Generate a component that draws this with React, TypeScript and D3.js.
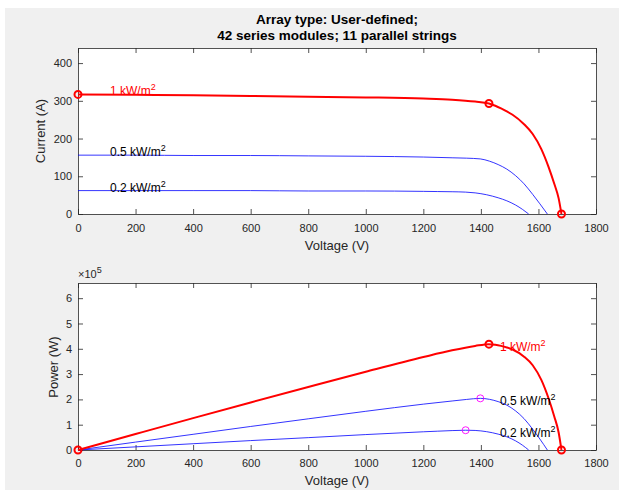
import React, { useEffect, useRef } from "react";
import * as d3 from "d3";

// I-V curves (voltage in V, current in A)
const irradianceLabels = ["1 kW/m", "0.5 kW/m", "0.2 kW/m"];

const voltage1 = [0, 200, 400, 600, 800, 1000, 1200, 1300, 1380, 1428, 1450, 1470, 1490, 1510, 1550, 1580, 1610, 1635, 1655, 1670, 1680];
const current1 = [317, 316, 315, 313, 311, 309, 306, 303, 298, 293, 287, 280, 272, 263, 238, 212, 172, 125, 80, 42, 0];

const voltage05 = [0, 200, 400, 600, 800, 1000, 1200, 1300, 1350, 1398, 1430, 1460, 1490, 1520, 1550, 1580, 1605, 1631];
const current05 = [156, 156, 155, 155, 154, 153, 151, 149, 148, 146, 140, 131, 119, 102, 80, 52, 27, 0];

const voltage02 = [0, 200, 400, 600, 800, 1000, 1200, 1250, 1300, 1347, 1380, 1420, 1460, 1490, 1520, 1545, 1566];
const current02 = [62, 62, 62, 62, 61, 61, 60, 59.5, 59, 58, 56, 51, 43, 35, 24, 12, 0];

// maximum power points
const mppVoltage = [1428, 1398, 1347];
const mppCurrent = [293, 146, 58];

const xTicks = [0, 200, 400, 600, 800, 1000, 1200, 1400, 1600, 1800];
const currentTicks = [0, 100, 200, 300, 400];
const powerTicks = [0, 1, 2, 3, 4, 5, 6];

const titleLines = ["Array type: User-defined;", "42 series modules; 11 parallel strings"];

const W = 619;
const H = 490;
const AX = "#262626";
const FONT = "'Liberation Sans', Arial, Helvetica, sans-serif";

export default function App() {
  const svgRef = useRef<SVGSVGElement>(null);

  useEffect(() => {
    const svg = d3.select(svgRef.current);
    svg.selectAll("*").remove();

    svg.append("rect").attr("x", 5).attr("y", 8).attr("width", W - 5).attr("height", H - 8).attr("fill", "#f0f0f0");

    const x = d3.scaleLinear().domain([0, 1800]).range([78, 596]);
    const yI = d3.scaleLinear().domain([0, 440]).range([214, 48]);
    const yP = d3.scaleLinear().domain([0, 6.6e5]).range([450, 283]);

    const curves = [
      { v: voltage1, i: current1, color: "#ff0000", width: 2 },
      { v: voltage05, i: current05, color: "#0000ff", width: 0.8 },
      { v: voltage02, i: current02, color: "#0000ff", width: 0.8 },
    ];

    // draws one axes box with inward ticks on all four sides
    const drawAxes = (y: d3.ScaleLinear<number, number>, yTicks: number[], yFmt: (d: number) => string, xPad: number) => {
      const [y0, y1] = y.range();
      svg.append("rect").attr("x", 78).attr("y", y1).attr("width", 518).attr("height", y0 - y1).attr("fill", "#fff");

      const style = (g: any) => {
        g.selectAll("path").attr("stroke", AX).attr("stroke-width", 0.8);
        g.selectAll("line").attr("stroke", AX).attr("stroke-width", 0.8);
        g.selectAll("text").attr("fill", AX).attr("font-size", 11).attr("font-family", FONT);
      };

      svg.append("g").attr("transform", `translate(0,${y0})`)
        .call(d3.axisBottom(x).tickValues(xTicks).tickFormat(d3.format("d")).tickSizeInner(-5).tickSizeOuter(0).tickPadding(xPad))
        .call(style);
      svg.append("g").attr("transform", `translate(0,${y1})`)
        .call(d3.axisTop(x).tickValues(xTicks).tickFormat(() => "").tickSizeInner(-5).tickSizeOuter(0))
        .call(style);
      svg.append("g").attr("transform", `translate(78,0)`)
        .call(d3.axisLeft(y).tickValues(yTicks).tickFormat(yFmt as any).tickSizeInner(-5).tickSizeOuter(0).tickPadding(6))
        .call(style);
      svg.append("g").attr("transform", `translate(596,0)`)
        .call(d3.axisRight(y).tickValues(yTicks).tickFormat(() => "").tickSizeInner(-5).tickSizeOuter(0))
        .call(style);
      svg.selectAll(".domain").attr("fill", "none");
    };

    const supLabel = (px: number, py: number, label: string, color: string) => {
      const t = svg.append("text").attr("x", px).attr("y", py).attr("fill", color)
        .attr("font-size", 12).attr("font-family", FONT);
      t.append("tspan").text(label);
      t.append("tspan").attr("dy", -5).attr("font-size", 9).text("2");
    };

    // title
    titleLines.forEach((s, k) => {
      svg.append("text").attr("x", 337).attr("y", 24 + k * 16).attr("text-anchor", "middle")
        .attr("font-size", 13.5).attr("font-weight", "bold").attr("font-family", FONT).attr("fill", "#000").text(s);
    });

    // ---------- current plot ----------
    drawAxes(yI, currentTicks, (d) => String(d), 10);

    curves.slice().reverse().forEach((c) => {
      const line = d3.line<number>().x((d, k) => x(c.v[k])).y((d) => yI(d)).curve(d3.curveMonotoneX);
      svg.append("path").attr("d", line(c.i)).attr("fill", "none").attr("stroke", c.color).attr("stroke-width", c.width);
    });

    const redI: [number, number][] = [
      [0, current1[0]],
      [mppVoltage[0], mppCurrent[0]],
      [voltage1[voltage1.length - 1], 0],
    ];
    svg.append("g").selectAll("circle").data(redI).join("circle")
      .attr("cx", (d) => x(d[0])).attr("cy", (d) => yI(d[1])).attr("r", 3.5)
      .attr("fill", "none").attr("stroke", "#ff0000").attr("stroke-width", 2);

    curves.forEach((c, k) => {
      supLabel(x(0) + 32, yI(c.i[0]) + 1, irradianceLabels[k], k === 0 ? "#ff0000" : "#000");
    });

    svg.append("text").attr("x", 337).attr("y", 250).attr("text-anchor", "middle")
      .attr("font-size", 13).attr("font-family", FONT).attr("fill", AX).text("Voltage (V)");
    svg.append("text").attr("transform", `translate(45,131) rotate(-90)`).attr("text-anchor", "middle")
      .attr("font-size", 13).attr("font-family", FONT).attr("fill", AX).text("Current (A)");

    // ---------- power plot ----------
    drawAxes(yP, powerTicks.map((d) => d * 1e5), (d) => String(d / 1e5), 9.5);

    curves.slice().reverse().forEach((c) => {
      const line = d3.line<number>().x((d, k) => x(c.v[k])).y((d, k) => yP(c.v[k] * d)).curve(d3.curveMonotoneX);
      svg.append("path").attr("d", line(c.i)).attr("fill", "none").attr("stroke", c.color).attr("stroke-width", c.width);
    });

    const redP: [number, number][] = [
      [0, 0],
      [mppVoltage[0], mppVoltage[0] * mppCurrent[0]],
      [voltage1[voltage1.length - 1], 0],
    ];
    svg.append("g").selectAll("circle").data(redP).join("circle")
      .attr("cx", (d) => x(d[0])).attr("cy", (d) => yP(d[1])).attr("r", 3.5)
      .attr("fill", "none").attr("stroke", "#ff0000").attr("stroke-width", 2);

    svg.append("g").selectAll("circle").data([1, 2]).join("circle")
      .attr("cx", (k) => x(mppVoltage[k])).attr("cy", (k) => yP(mppVoltage[k] * mppCurrent[k])).attr("r", 3.5)
      .attr("fill", "none").attr("stroke", "#ff00ff").attr("stroke-width", 0.9);

    curves.forEach((c, k) => {
      supLabel(x(mppVoltage[0]) + 11, yP(mppVoltage[k] * mppCurrent[k]) + 7, irradianceLabels[k], k === 0 ? "#ff0000" : "#000");
    });

    const mult = svg.append("text").attr("x", 78).attr("y", 278).attr("fill", AX)
      .attr("font-size", 11).attr("font-family", FONT);
    mult.append("tspan").text("\u00d710");
    mult.append("tspan").attr("dy", -5).attr("font-size", 9).text("5");

    svg.append("text").attr("x", 337).attr("y", 485).attr("text-anchor", "middle")
      .attr("font-size", 13).attr("font-family", FONT).attr("fill", AX).text("Voltage (V)");
    svg.append("text").attr("transform", `translate(58,367) rotate(-90)`).attr("text-anchor", "middle")
      .attr("font-size", 13).attr("font-family", FONT).attr("fill", AX).text("Power (W)");
  }, []);

  return (
    <svg ref={svgRef} width={W} height={H} style={{ position: "absolute", left: 0, top: 0, background: "#fff" }} />
  );
}
